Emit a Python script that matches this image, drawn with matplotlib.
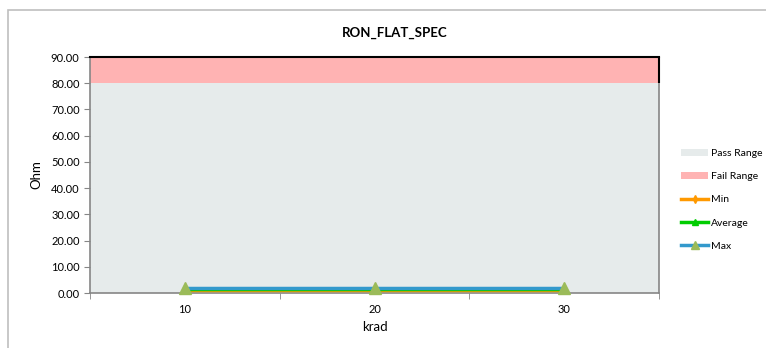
import matplotlib.pyplot as plt
from matplotlib.patches import Rectangle
from matplotlib.lines import Line2D
from matplotlib.patches import Patch

plt.rcParams["font.family"] = ["Lato", "DejaVu Sans"]

# data
krad = [10, 20, 30]
min_vals = [1.2, 1.2, 1.2]
avg_vals = [1.5, 1.5, 1.5]
max_vals = [1.8, 1.8, 1.8]
pass_range = (0.0, 80.0)
fail_range = (80.0, 90.0)
y_ticks = [0, 10, 20, 30, 40, 50, 60, 70, 80, 90]

fig = plt.figure(figsize=(7.66, 3.48), dpi=100)
# outer chart border
fig.patches.append(Rectangle((8 / 766, -0.1), 1.2, 1 - 10 / 348 + 0.1,
                             transform=fig.transFigure, fill=False,
                             edgecolor="#bfbfbf", linewidth=1.2))

ax = fig.add_axes([90 / 766, 1 - 293 / 348, 569 / 766, 236 / 348])
ax.axhspan(*pass_range, facecolor="#e6ebeb", edgecolor="none", zorder=1)
ax.axhspan(*fail_range, facecolor="#ffb3b3", edgecolor="none", zorder=1)

ax.plot(krad, min_vals, color="#ff9900", lw=2.5, marker="d", ms=5, zorder=3)
ax.plot(krad, avg_vals, color="#00cc00", lw=2.5, marker="^", ms=5, zorder=3)
ax.plot(krad, max_vals, color="#3399cc", lw=2.5, marker="^", ms=9,
        mfc="#9bbb59", mec="#9bbb59", zorder=4, clip_on=False)

ax.set_xlim(5, 35)
ax.set_ylim(0, 90)
# black outline of fail range (top + right side)
ax.vlines(35, *fail_range, color="black", lw=1.5, zorder=5, clip_on=False)
ax.set_xticks(krad)
ax.set_xticks([5, 15, 25, 35], minor=True)
ax.tick_params(axis="x", which="major", length=0, labelsize=8, pad=8)
ax.tick_params(axis="x", which="minor", length=4, color="#868686")
ax.set_yticks(y_ticks)
ax.set_yticklabels([f"{v:.2f}" for v in y_ticks])
ax.tick_params(axis="y", length=4, color="#868686", labelsize=8)
for s in ["left", "bottom", "right"]:
    ax.spines[s].set_color("#868686")
    ax.spines[s].set_linewidth(1.2)
ax.spines["top"].set_color("black")
ax.spines["top"].set_linewidth(1.5)

ax.set_xlabel("krad", fontsize=9.5, labelpad=4)
ax.set_ylabel("Ohm", fontsize=9.5, labelpad=6)
fig.text(395 / 766, 1 - 33 / 348, "RON_FLAT_SPEC",
         ha="center", va="center", fontsize=9.5, fontweight="bold")

handles = [
    Patch(facecolor="#e6ebeb", edgecolor="none"),
    Patch(facecolor="#ffb3b3", edgecolor="none"),
    Line2D([], [], color="#ff9900", lw=2.5, marker="d", ms=4),
    Line2D([], [], color="#00cc00", lw=2.5, marker="^", ms=4),
    Line2D([], [], color="#3399cc", lw=2.5, marker="^", ms=6, mfc="#9bbb59", mec="#9bbb59"),
]
labels = ["Pass Range", "Fail Range", "Min", "Average", "Max"]
fig.legend(handles, labels, loc="center left", bbox_to_anchor=(672 / 766, 1 - 200 / 348),
           frameon=False, fontsize=7.5, handlelength=2.6, handletextpad=0.2,
           labelspacing=1.35, handleheight=0.6)

fig.savefig("out.png", dpi=100)
